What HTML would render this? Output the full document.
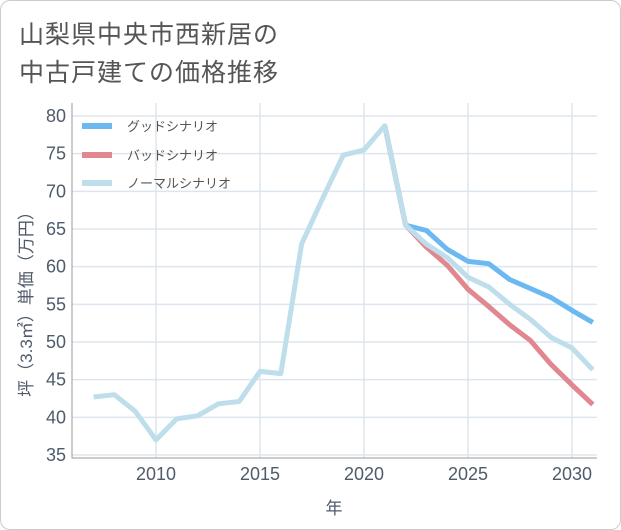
<!DOCTYPE html>
<html><head><meta charset="utf-8"><style>
body{margin:0;background:#fff;font-family:"Liberation Sans","Noto Sans CJK JP",sans-serif;}
#wrap{position:relative;width:619px;height:528px;border:1px solid #ccc;border-radius:10px;background:#fff;}
.title{position:absolute;left:18px;font-size:25px;color:#555;letter-spacing:1px;}
</style></head><body>
<div id="wrap">
<div class="title" style="top:14px">山梨県中央市西新居の</div>
<div class="title" style="top:52px">中古戸建ての価格推移</div>
<svg id="chart" width="621" height="530" style="position:absolute;left:-1px;top:-1px"></svg>
</div>
<script>
const years=[2007,2008,2009,2010,2011,2012,2013,2014,2015,2016,2017,2018,2019,2020,2021,2022,2023,2024,2025,2026,2027,2028,2029,2030,2031];
const normal=[42.7,43,40.8,37,39.8,40.2,41.8,42.1,46.1,45.8,63,69,74.8,75.5,78.7,65.5,63,61.2,58.6,57.3,55,53,50.6,49.2,46.3];
const goodYears=[2021,2022,2023,2024,2025,2026,2027,2028,2029,2030,2031];
const good=[78.7,65.5,64.8,62.3,60.7,60.4,58.3,57.1,55.9,54.2,52.6];
const bad=[78.7,65.5,62.6,60.2,57,54.7,52.3,50.2,47,44.3,41.7];
const yTicks=[35,40,45,50,55,60,65,70,75,80];
const xTicks=[2010,2015,2020,2025,2030];
const svg=document.getElementById('chart');const NS='http://www.w3.org/2000/svg';
const L=72,R=597,T=103,B=458;
const x=v=>156+(v-2010)*20.8;
const y=v=>455-(v-35)*(339/45);
function mk(t,a,p){const e=document.createElementNS(NS,t);for(const k in a)e.setAttribute(k,a[k]);(p||svg).appendChild(e);return e;}
yTicks.forEach(v=>{const l=mk('line',{x1:L,x2:R,y1:y(v),y2:y(v),stroke:'#dde6ee','stroke-width':1.5});

const t=mk('text',{x:L-6,y:y(v)+6,'text-anchor':'end','font-size':18,fill:'#4f5b6b'});t.textContent=v;
});
xTicks.forEach(v=>{const l=mk('line',{x1:x(v),x2:x(v),y1:T,y2:B,stroke:'#dde6ee','stroke-width':1.5});

const t=mk('text',{x:x(v),y:B+22,'text-anchor':'middle','font-size':18,fill:'#4f5b6b'});t.textContent=v;
});
const ax=mk('path',{d:`M${L} ${T}V${B}H${R}`,fill:'none',stroke:'#999','stroke-width':1});

function line(xs,vs,c,name){const d=vs.map((v,i)=>(i?'L':'M')+x(xs[i]).toFixed(1)+' '+y(v).toFixed(1)).join('');
const p=mk('path',{d,fill:'none',stroke:c,'stroke-width':5,'stroke-linejoin':'round','clip-path':'url(#cp)'});
}
const cp=mk('clipPath',{id:'cp'});mk('rect',{x:L,y:T,width:R-L,height:B-T},cp);
line(goodYears,good,'#6bb9f0','good-scenario-line');
line(goodYears,bad,'#e0878f','bad-scenario-line');
line(years,normal,'#bfdeec','normal-scenario-line');
[['グッドシナリオ','#6bb9f0',126],['バッドシナリオ','#e0878f',155],['ノーマルシナリオ','#bfdeec',183]].forEach(a=>{
const l=mk('line',{x1:82,x2:112,y1:a[2],y2:a[2],stroke:a[1],'stroke-width':6});

const t=mk('text',{x:127,y:a[2]+5,'font-size':13,fill:'#555'});t.textContent=a[0];
});
const xt=mk('text',{x:334,y:514,'text-anchor':'middle','font-size':17,fill:'#4f5b6b'});xt.textContent='年';

const yt=mk('text',{x:0,y:0,'text-anchor':'middle','font-size':17,fill:'#4f5b6b',transform:'translate(32,300) rotate(-90)'});yt.textContent='坪（3.3㎡）単価（万円）';

</script>
</body></html>
